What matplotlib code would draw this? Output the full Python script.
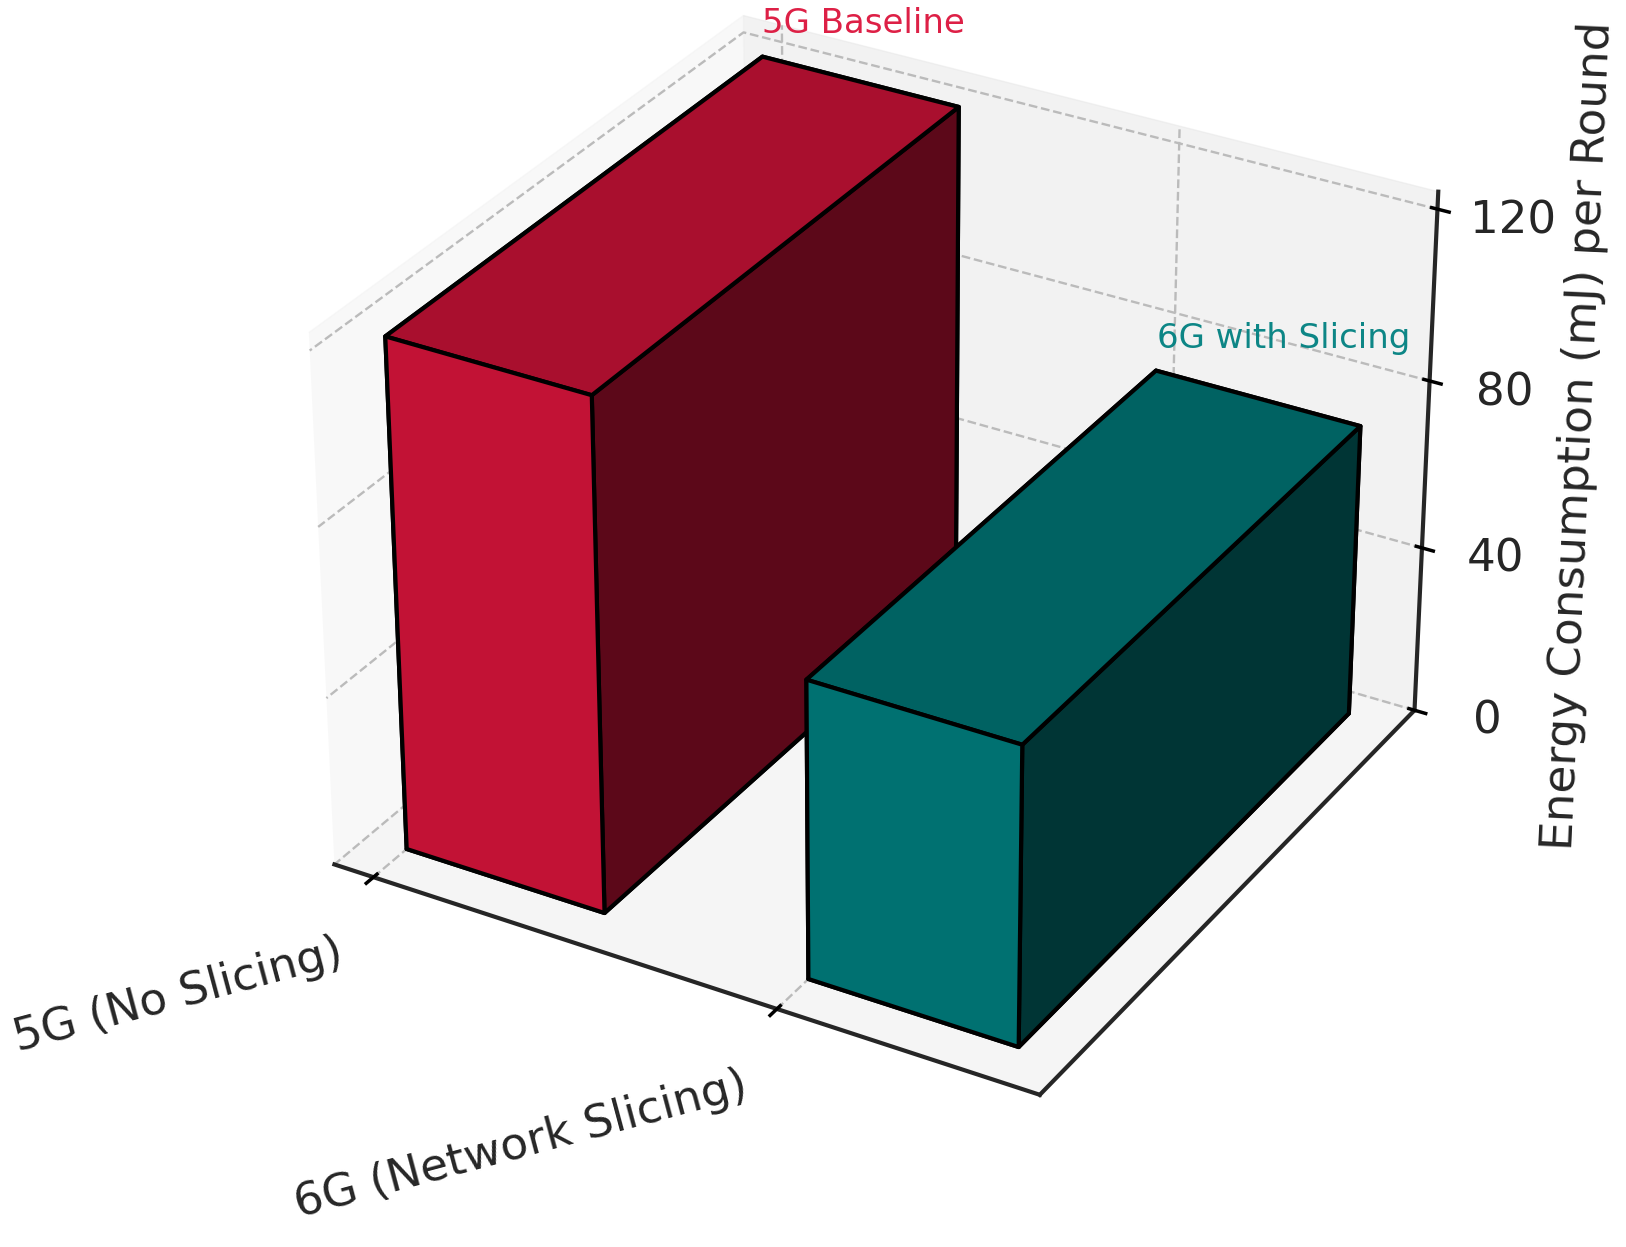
import numpy as np
import matplotlib
matplotlib.use("Agg")
import matplotlib.pyplot as plt

categories = ['5G (No Slicing)', '6G (Network Slicing)']
energy = [120, 70]
colors = ['#DC143C', '#008080']
notes = ['5G Baseline', '6G with Slicing']
z_ticks = [0, 40, 80, 120]

dark = '#262626'

fig = plt.figure(figsize=(16.26, 12.47), dpi=100)
ax = fig.add_axes([0.146, 0.0585, 0.775, 1.007], projection='3d')

x = np.arange(len(categories))
ax.bar3d(x, np.zeros(2), np.zeros(2), 0.5, 0.8, energy, color=colors, edgecolor='black', linewidth=3, shade=True)

ax.set_xticks(x)
ax.set_xticklabels(categories, rotation=15, fontsize=32.7, ha='right', color=dark)
ax.set_yticks([])
ax.set_zticks(z_ticks)
ax.set_zticklabels(z_ticks, fontsize=32.5, color=dark)
ax.set_zlabel('Energy Consumption (mJ) per Round', fontsize=32.7, color=dark, labelpad=47)
ax.set_xlim(-0.1, 1.62)
ax.set_ylim(-0.068, 0.845)
ax.set_zlim(0, 124)
ax.tick_params(axis='x', pad=20)
ax.tick_params(axis='z', pad=25)

for axis in (ax.xaxis, ax.yaxis, ax.zaxis):
    axis._axinfo['grid'].update(color='#bbbbbb', linestyle='--', linewidth=1.7)
    axis._axinfo['tick']['linewidth'] = {True: 2.5, False: 1.0}
    axis._axinfo['tick']['color'] = dark
    axis.line.set_color(dark)
    axis.line.set_linewidth(3)

for i in x:
    ax.text(i, 0.8, energy[i] + 5.5, notes[i], color=colors[i], fontsize=24.5, ha='left', alpha=0.95)

fig.savefig('out.png', dpi=100)
